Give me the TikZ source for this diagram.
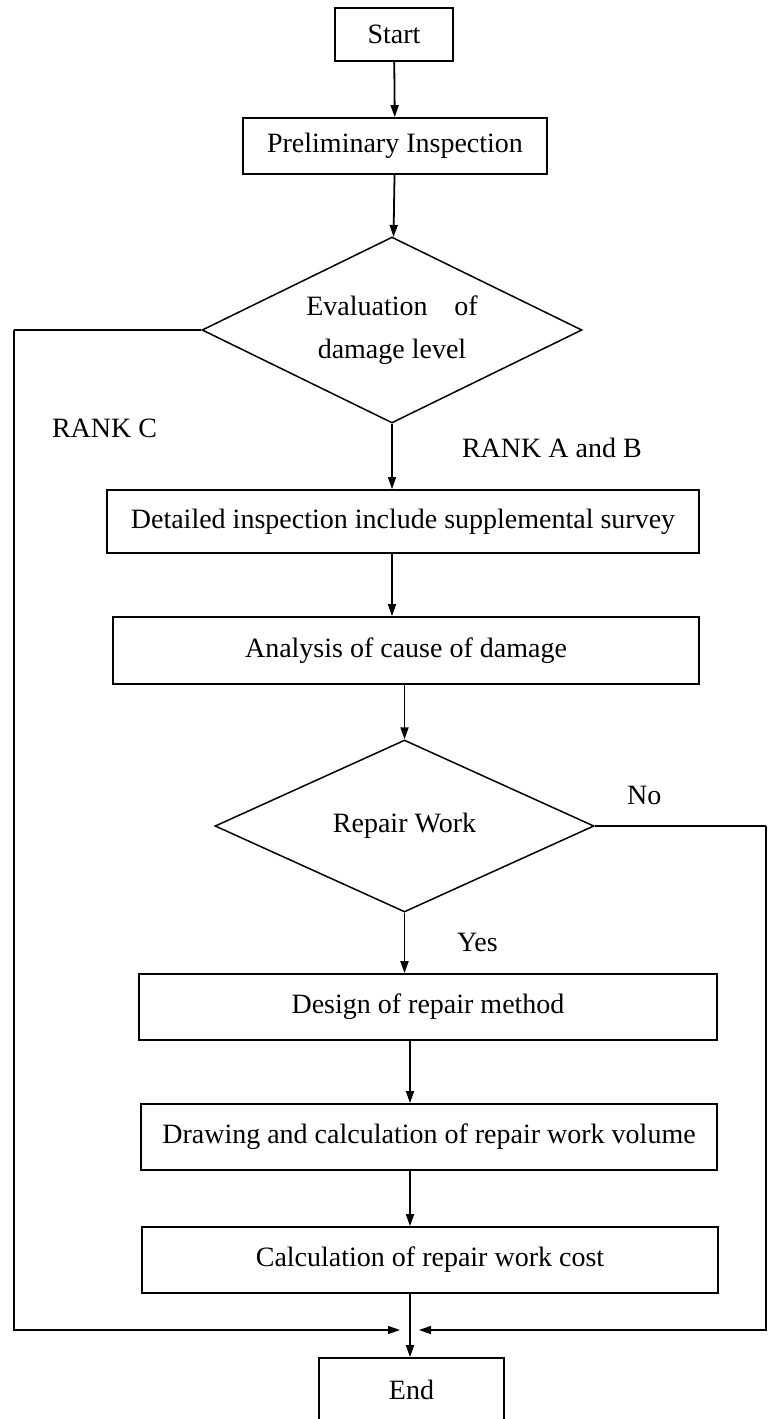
\documentclass[tikz,border=0pt]{standalone}
\usepackage{fontspec}
\setmainfont{Liberation Serif}
\usetikzlibrary{arrows.meta, shapes.geometric}

\begin{document}
\begin{tikzpicture}[x=0.5pt, y=-0.5pt,
    every node/.style={font=\fontsize{14}{21.5}\selectfont},
    box/.style={draw, rectangle, line width=0.9pt, inner sep=0pt},
    decision/.style={draw, diamond, line width=0.75pt, inner sep=0pt, shape aspect=2, align=center},
    flow/.style={line width=0.9pt, -{Triangle[length=6pt, width=4pt]}},
    link/.style={line width=0.65pt},
    tag/.style={anchor=west}
]
\clip (0,0) rectangle (767,1419);

% Boxes and decisions
\node[box, minimum width=59pt, minimum height=26.5pt] (start) at (394,34.5) {Start};
\node[box, minimum width=152pt, minimum height=28pt] (prelim) at (395,146) {Preliminary Inspection};
\node[decision, minimum width=190pt, minimum height=93pt] (dia1) at (392,330)
    {Evaluation\hspace{0.96em}of\\damage level};
\node[box, minimum width=296pt, minimum height=31.5pt] (detail) at (403,521.5)
    {Detailed inspection include supplemental survey};
\node[box, minimum width=293pt, minimum height=33.5pt] (anal) at (406,650.5) {Analysis of cause of damage};
\node[decision, minimum width=189.5pt, minimum height=86pt] (dia2) at (404.5,826) {Repair Work};
\node[box, minimum width=289pt, minimum height=33pt] (design) at (428,1007) {Design of repair method};
\node[box, minimum width=288pt, minimum height=33pt] (drawing) at (429,1137)
    {Drawing and calculation of repair work volume};
\node[box, minimum width=288pt, minimum height=33pt] (calc) at (430,1260) {Calculation of repair work cost};
\node[box, minimum width=92.5pt, minimum height=40pt] (end) at (411.5,1398) {};
\node (endtxt) at (411.5,1390) {End};

% Branch labels
\node[tag] (rankc) at (45,428) {RANK C};
\node[tag] (rankab) at (455,448) {RANK A and B};
\node[tag] (no) at (620,795) {No};
\node[tag] (yes) at (450,942) {Yes};

% Helper points
\coordinate (cornL) at (14,330);
\coordinate (cornR) at (766,826);
\coordinate (joinL) at (400,1330);
\coordinate (joinR) at (419,1330);
\coordinate (axis) at (410,0);

% Main flow
\draw[flow] (start) -- (prelim);
\draw[flow] (prelim) -- (dia1);
\draw[flow] (dia1.south) -- (detail.north -| dia1.south);
\draw[flow] (detail.south -| dia1.south) -- (anal.north -| dia1.south);
\draw[flow] (anal.south -| dia2.north) -- (dia2.north);
\draw[flow] (dia2.south) -- (design.north -| dia2.south);
\draw[flow] (design.south -| axis) -- (drawing.north -| axis);
\draw[flow] (drawing.south -| axis) -- (calc.north -| axis);
\draw[flow] (calc.south -| axis) -- (end.north -| axis);

% Return lines to End
\draw[link] (dia1.west) -- (cornL);
\draw[link, -{Triangle[length=6pt, width=4pt]}] (cornL) |- (joinL);
\draw[link] (dia2.east) -- (cornR);
\draw[link, -{Triangle[length=6pt, width=4pt]}] (cornR) |- (joinR);

\end{tikzpicture}
\end{document}
